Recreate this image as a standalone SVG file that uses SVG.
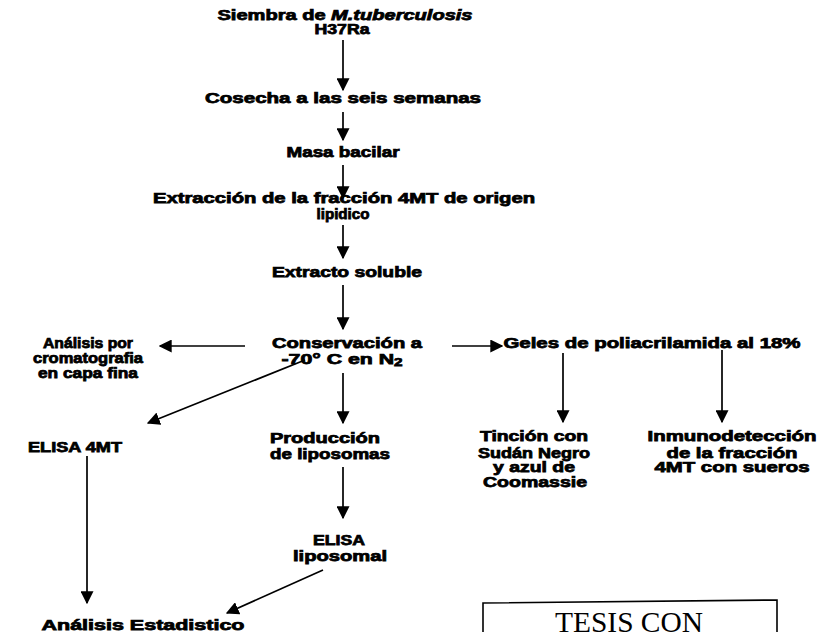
<svg xmlns="http://www.w3.org/2000/svg" width="819" height="632" viewBox="0 0 819 632">
<defs>
<style>
.t{font-family:"Liberation Sans",Arial,Helvetica,sans-serif;font-weight:bold;font-size:14px;fill:#000;stroke:#000;stroke-width:0.75px;text-anchor:middle}
.c line{stroke:#000;stroke-width:1.7;fill:none;marker-end:url(#ah)}
.stamp{font-family:"Liberation Serif","Times New Roman",serif;font-size:29px;fill:#000;text-anchor:middle}
</style>
<marker id="ah" viewBox="0 0 10 10" refX="9" refY="5" markerWidth="13" markerHeight="13" markerUnits="userSpaceOnUse" orient="auto">
<path d="M0,0 L10,5 L0,10 z" fill="#000"/>
</marker>
</defs>
<rect width="819" height="632" fill="#fff"/>

<g id="siembra"><text class="t" x="345" y="20" textLength="255" lengthAdjust="spacingAndGlyphs">Siembra de <tspan font-style="italic">M.tuberculosis</tspan></text><text class="t" x="342" y="34" textLength="55" lengthAdjust="spacingAndGlyphs">H37Ra</text></g>
<g id="cosecha"><text class="t" x="343" y="103" textLength="276" lengthAdjust="spacingAndGlyphs">Cosecha  a las seis semanas</text></g>
<g id="masa"><text class="t" x="343" y="157" textLength="113" lengthAdjust="spacingAndGlyphs">Masa bacilar</text></g>
<g id="extraccion"><text class="t" x="344" y="203" textLength="382" lengthAdjust="spacingAndGlyphs">Extracción de la fracción 4MT de origen</text><text class="t" x="343" y="219" textLength="53" lengthAdjust="spacingAndGlyphs">lipidico</text></g>
<g id="extracto"><text class="t" x="347" y="277" textLength="150" lengthAdjust="spacingAndGlyphs">Extracto soluble</text></g>
<g id="conservacion"><text class="t" x="347" y="348" textLength="150" lengthAdjust="spacingAndGlyphs">Conservación a</text><text class="t" x="342" y="364" textLength="121" lengthAdjust="spacingAndGlyphs">-70° C en N<tspan font-size="10" dy="2">2</tspan></text></g>
<g id="analisis-cromato"><text class="t" x="88" y="348" textLength="90" lengthAdjust="spacingAndGlyphs">Análisis por</text><text class="t" x="88" y="363" textLength="110" lengthAdjust="spacingAndGlyphs">cromatografia</text><text class="t" x="88" y="378" textLength="100" lengthAdjust="spacingAndGlyphs">en capa fina</text></g>
<g id="geles"><text class="t" x="652" y="348" textLength="297" lengthAdjust="spacingAndGlyphs">Geles de poliacrilamida al 18%</text></g>
<g id="tincion"><text class="t" x="534" y="441" textLength="108" lengthAdjust="spacingAndGlyphs">Tinción con</text><text class="t" x="534" y="458" textLength="112" lengthAdjust="spacingAndGlyphs">Sudán Negro</text><text class="t" x="534" y="472" textLength="82" lengthAdjust="spacingAndGlyphs">y azul de</text><text class="t" x="535" y="487" textLength="104" lengthAdjust="spacingAndGlyphs">Coomassie</text></g>
<g id="inmuno"><text class="t" x="732" y="441" textLength="169" lengthAdjust="spacingAndGlyphs">Inmunodetección</text><text class="t" x="732" y="458" textLength="131" lengthAdjust="spacingAndGlyphs">de la fracción</text><text class="t" x="732" y="472" textLength="155" lengthAdjust="spacingAndGlyphs">4MT con sueros</text></g>
<g id="elisa4mt"><text class="t" x="75" y="452" textLength="94" lengthAdjust="spacingAndGlyphs">ELISA 4MT</text></g>
<g id="produccion"><text class="t" x="325" y="443" textLength="110" lengthAdjust="spacingAndGlyphs">Producción</text><text class="t" x="330" y="459" textLength="120" lengthAdjust="spacingAndGlyphs">de liposomas</text></g>
<g id="elisalip"><text class="t" x="339" y="545" textLength="52" lengthAdjust="spacingAndGlyphs">ELISA</text><text class="t" x="340" y="561" textLength="94" lengthAdjust="spacingAndGlyphs">liposomal</text></g>
<g id="estadistico"><text class="t" x="143" y="630" textLength="203" lengthAdjust="spacingAndGlyphs">Análisis Estadistico</text></g>
<g id="stamp"><path d="M483,632 L483,603 L777,600 L777,632" fill="none" stroke="#000" stroke-width="1.6"/><text class="stamp" x="629" y="632" textLength="148" lengthAdjust="spacingAndGlyphs">TESIS CON</text></g>

<g class="c" id="connectors">
<line x1="343" y1="40" x2="343" y2="90"/>
<line x1="343" y1="112" x2="343" y2="140"/>
<line x1="343" y1="165" x2="343" y2="198"/>
<line x1="343" y1="225" x2="343" y2="258"/>
<line x1="343" y1="285" x2="343" y2="329"/>
<line x1="245" y1="346" x2="160" y2="346"/>
<line x1="452" y1="346" x2="502" y2="346"/>
<line x1="563" y1="353" x2="563" y2="422"/>
<line x1="722" y1="350" x2="722" y2="422"/>
<line x1="305" y1="360" x2="148" y2="423"/>
<line x1="343" y1="373" x2="343" y2="423"/>
<line x1="343" y1="467" x2="343" y2="518"/>
<line x1="87" y1="456" x2="87" y2="603"/>
<line x1="323" y1="570" x2="227" y2="613"/>
</g>
</svg>
